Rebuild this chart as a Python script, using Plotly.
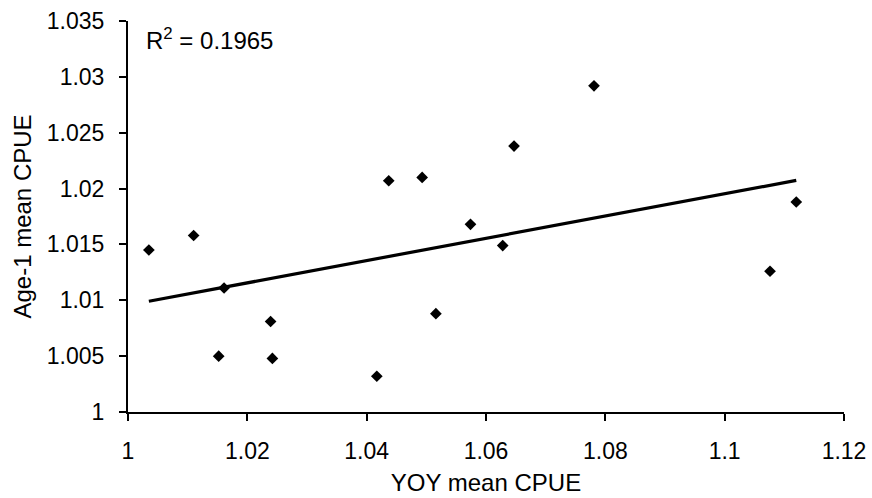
import numpy as np
import plotly.graph_objects as go

# Data
yoy_mean_cpue = [1.0035, 1.0110, 1.0161, 1.0152, 1.0239, 1.0242, 1.0417, 1.0437,
                 1.0493, 1.0516, 1.0574, 1.0628, 1.0647, 1.0781, 1.1076, 1.1120]
age1_mean_cpue = [1.0145, 1.0158, 1.0111, 1.0050, 1.0081, 1.0048, 1.0032, 1.0207,
                  1.0210, 1.0088, 1.0168, 1.0149, 1.0238, 1.0292, 1.0126, 1.0188]

x_tick_vals = [1, 1.02, 1.04, 1.06, 1.08, 1.1, 1.12]
x_tick_text = ["1", "1.02", "1.04", "1.06", "1.08", "1.1", "1.12"]
y_tick_vals = [1, 1.005, 1.01, 1.015, 1.02, 1.025, 1.03, 1.035]
y_tick_text = ["1", "1.005", "1.01", "1.015", "1.02", "1.025", "1.03", "1.035"]
r2_label = "R<sup>2</sup> = 0.1965"

# Linear trendline from the data
slope, intercept = np.polyfit(yoy_mean_cpue, age1_mean_cpue, 1)
trend_x = [min(yoy_mean_cpue), max(yoy_mean_cpue)]
trend_y = [slope * v + intercept for v in trend_x]

FONT = "Liberation Sans, Arial, sans-serif"

fig = go.Figure()
fig.add_trace(go.Scatter(
    x=yoy_mean_cpue, y=age1_mean_cpue, mode="markers",
    marker=dict(symbol="diamond", size=9, color="black"),
    showlegend=False, hoverinfo="skip"))
fig.add_trace(go.Scatter(
    x=trend_x, y=trend_y, mode="lines",
    line=dict(color="black", width=3.2),
    showlegend=False, hoverinfo="skip"))

fig.update_layout(
    width=872, height=498,
    margin=dict(l=128, r=28, t=21, b=86, autoexpand=False),
    paper_bgcolor="white", plot_bgcolor="white",
    font=dict(family=FONT, color="black", size=23),
    xaxis=dict(
        range=[1, 1.12], tickvals=x_tick_vals, ticktext=x_tick_text,
        automargin=False,
        showgrid=False, zeroline=False, showline=True, linecolor="black", linewidth=2,
        ticks="outside", ticklen=7, tickwidth=2, tickcolor="black",
        ticklabelstandoff=10,
        tickfont=dict(family=FONT, size=23, color="black"),
        title=dict(text="YOY mean CPUE", font=dict(family=FONT, size=24, color="black"), standoff=12),
    ),
    yaxis=dict(
        range=[1, 1.035], tickvals=y_tick_vals, ticktext=y_tick_text,
        automargin=False,
        showgrid=False, zeroline=False, showline=True, linecolor="black", linewidth=2,
        ticks="outside", ticklen=7, tickwidth=2, tickcolor="black",
        ticklabelstandoff=10,
        tickfont=dict(family=FONT, size=23, color="black"),
        title=dict(text="Age-1 mean CPUE", font=dict(family=FONT, size=24, color="black"), standoff=8),
    ),
    annotations=[dict(
        text=r2_label, xref="paper", yref="paper", x=0.022, y=0.955,
        xanchor="left", yanchor="middle", showarrow=False,
        font=dict(family=FONT, size=24, color="black"))],
)

fig.write_html("out.html")
